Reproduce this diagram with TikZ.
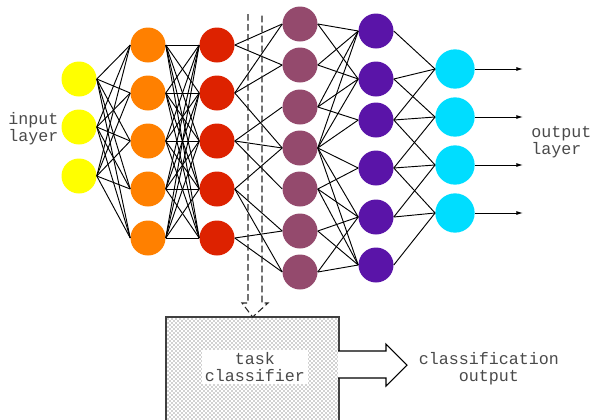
\documentclass[tikz,border=0pt]{standalone}
\usepackage{fontspec}
\newfontfamily\monofont{Liberation Mono}
\usetikzlibrary{patterns,arrows.meta}
\definecolor{cyel}{HTML}{FFFF00}
\definecolor{corg}{HTML}{FF8000}
\definecolor{cred}{HTML}{DD2200}
\definecolor{cmauve}{HTML}{944A6D}
\definecolor{cpurp}{HTML}{5A14A8}
\definecolor{ccyan}{HTML}{00DDFF}
\definecolor{ctext}{HTML}{4A4A4A}
\begin{document}
\begin{tikzpicture}[x=0.75pt,y=-0.75pt,
  neuron/.style={circle,inner sep=0pt,minimum size=26.25pt,draw=none},
  outneuron/.style={circle,inner sep=0pt,minimum size=29.5pt,draw=none},
  edge/.style={black,line width=0.7pt},
  lbl/.style={font=\monofont\fontsize{12.5}{12.75}\selectfont,text=ctext,inner sep=0pt},
  outarrow/.style={black,line width=0.7pt,-{Latex[length=5pt,width=3pt]}},
  dashedarrow/.style={black!85,line width=0.8pt,dash pattern=on 5pt off 2.5pt},
  bigarrow/.style={black,line width=0.8pt,fill=white}]
\useasboundingbox (0,0) rectangle (590,419);

% layers
\foreach \i/\y in {1/79,2/127,3/176} \node[neuron,fill=cyel] (Y\i) at (79,\y) {};
\foreach \i/\y in {1/45,2/93,3/141,4/189,5/238} \node[neuron,fill=corg] (O\i) at (148,\y) {};
\foreach \i/\y in {1/45,2/93,3/141,4/189,5/238} \node[neuron,fill=cred] (R\i) at (217,\y) {};
\foreach \i/\y in {1/24,2/65,3/107,4/148,5/189,6/231,7/272} \node[neuron,fill=cmauve] (M\i) at (300,\y) {};
\foreach \i/\y in {1/31,2/79,3/120,4/168,5/217,6/265} \node[neuron,fill=cpurp] (P\i) at (376,\y) {};
\foreach \i/\y in {1/69,2/117,3/165,4/213} \node[outneuron,fill=ccyan] (C\i) at (455,\y) {};

% edges
\foreach \i in {1,2,3} \foreach \j in {1,...,5} \draw[edge] (Y\i.east) -- (O\j.west);
\foreach \i in {1,...,5} \foreach \j in {1,...,5} \draw[edge] (O\i.east) -- (R\j.west);
\foreach \i/\j in {1/1,1/2,2/1,2/2,2/4,3/3,3/4,3/5,4/4,4/6,4/7,5/6,5/7}
  \draw[edge] (R\i.east) -- (M\j.west);
\foreach \i/\j in {1/1,1/2,2/1,2/2,3/1,3/2,3/3,4/1,4/2,4/3,4/4,4/5,4/6,5/4,5/5,5/6,6/5,6/6,7/5,7/6}
  \draw[edge] (M\i.east) -- (P\j.west);
\foreach \i/\j in {1/1,2/1,2/2,3/1,3/2,3/3,4/2,4/3,4/4,5/3,5/4,6/4}
  \draw[edge] (P\i.east) -- (C\j.west);

% output arrows
\foreach \i/\y in {1/69,2/117,3/165,4/213} {
  \coordinate (out\i) at (523,\y);
  \draw[outarrow] (C\i.east) -- (out\i);
}

% labels
\node[lbl,anchor=west,align=left] (inlbl) at (8,128.5) {input\\layer};
\node[lbl,anchor=west,align=left] (outlbl) at (531,142) {output\\layer};

% task classifier box
\node[draw=black!75,line width=1pt,fill=white,anchor=north west,
  minimum width=129pt,minimum height=90pt,inner sep=0pt] (box) at (166,317) {};
\fill[pattern=crosshatch dots,pattern color=black!75] (box.north west) rectangle (box.south east);
\draw[black!75,line width=1pt] (box.north west) rectangle (box.south east);
\node[lbl,fill=white,align=center,inner xsep=2.5pt,inner ysep=1.5pt] (task) at (255,367) {task\\classifier};

% dashed double arrow into box
\coordinate (dtop) at (255,14);
\draw[dashedarrow] (248,14) -- (248,303) -- (242,303) -- (box.north) -- (268,303) -- (262,303) -- (262,14);

% big output arrow
\coordinate (tip) at (407,365);
\draw[bigarrow] (338,351) -- (386,351) -- (386,344) -- (tip) -- (386,386) -- (386,378) -- (338,378);
\node[lbl,align=center] (clsout) at (489,368.5) {classification\\output};
\end{tikzpicture}
\end{document}
